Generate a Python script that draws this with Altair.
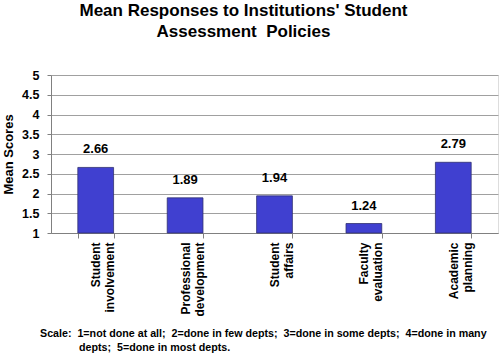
import altair as alt
import pandas as pd

categories = ["Student involvement", "Professional development", "Student affairs",
              "Faculty evaluation", "Academic planning"]
label_lines = [["Student", "involvement"], ["Professional", "development"],
               ["Student", "affairs"], ["Faculty", "evaluation"], ["Academic", "planning"]]
values = [2.66, 1.89, 1.94, 1.24, 2.79]
baseline = [1, 1, 1, 1, 1]
y_ticks = [1, 1.5, 2, 2.5, 3, 3.5, 4, 4.5, 5]

df = pd.DataFrame({"cat": categories, "val": values, "base": baseline,
                   "txt": [f"{v:.2f}" for v in values]})

FONT = "Liberation Sans"
NB = "\u00a0"

label_expr = ("{" + ",".join(
    f"'{c}': ['{a}', '{b}']" for c, (a, b) in zip(categories, label_lines)) + "}[datum.value]")

x_enc = alt.X("cat:N", sort=categories, title=None,
              scale=alt.Scale(paddingInner=0.6, paddingOuter=0.3),
              axis=alt.Axis(labelAngle=-90, labelFont=FONT, labelFontWeight="bold",
                            labelFontSize=12, labelColor="black", labelLineHeight=14,
                            labelExpr=label_expr, labelPadding=4, tickBand="extent",
                            tickSize=5, tickColor="#808080", domainColor="#808080",
                            labelAlign="right", labelBaseline="middle", labelOverlap=False))
y_scale = alt.Scale(domain=[1, 5], nice=False, zero=False)
y_axis = alt.Axis(values=y_ticks, format="~g", labelFont=FONT,
                  labelFontWeight="bold", labelFontSize=12.5, labelColor="black",
                  titleFont=FONT, titleFontSize=13, titleFontWeight="bold",
                  titleColor="black", titlePadding=6, tickSize=4,
                  tickColor="#808080", domainColor="#808080", gridColor="#a0a0a0",
                  labelPadding=8, labelOverlap=False, labelFlush=False)

bars = alt.Chart(df).mark_bar(color="#4040D0", stroke="#303070", strokeWidth=0.8).encode(
    x=x_enc,
    y=alt.Y("val:Q", scale=y_scale, title="Mean Scores", axis=y_axis),
    y2="base:Q",
)

labels = alt.Chart(df).mark_text(font=FONT, fontWeight="bold", fontSize=13, color="black",
                                 baseline="bottom", dy=-11).encode(
    x=alt.X("cat:N", sort=categories),
    y=alt.Y("val:Q", scale=y_scale, title="Mean Scores", axis=y_axis),
    text="txt:N",
)

foot_lines = [("Scale:  1=not done at all;  2=done in few depts;  3=done in some depts;  "
               "4=done in many").replace("  ", NB + " "),
              "depts;  5=done in most depts.".replace("  ", NB + " ")]
foot_pos = [(-11, 259), (28, 273)]

foot_layers = []
for line, (px, py) in zip(foot_lines, foot_pos):
    foot_layers.append(
        alt.Chart(pd.DataFrame({"t": [line]})).mark_text(
            font=FONT, fontWeight="bold", fontSize=10.7, color="black",
            align="left", baseline="middle").encode(
            x=alt.value(px), y=alt.value(py), text="t:N"))

chart = alt.layer(bars, labels, *foot_layers).properties(
    width=447, height=158,
    title=alt.TitleParams(["Mean Responses to Institutions' Student",
                           "Assessment" + NB + " Policies"],
                          font=FONT, fontSize=17, fontWeight="bold", color="black",
                          anchor="middle", dx=-31, offset=28, lineHeight=21),
    padding={"left": 51, "top": 75, "right": 2, "bottom": 121},
    autosize=alt.AutoSizeParams(type="none"),
).configure_view(stroke=None).configure(background="white")

chart.save("out.html", embed_options={"renderer": "svg", "actions": False})
